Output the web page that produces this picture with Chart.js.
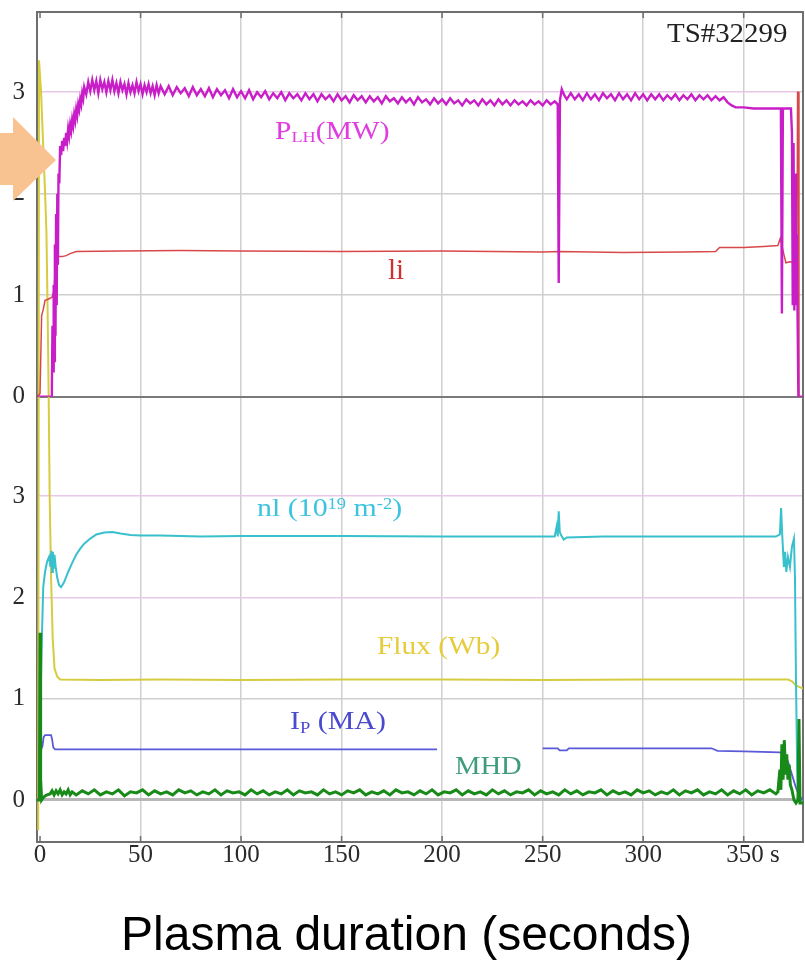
<!DOCTYPE html>
<html><head><meta charset="utf-8">
<script src="https://cdn.jsdelivr.net/npm/chart.js@4.4.1/dist/chart.umd.min.js"></script>
<style>
html,body{margin:0;padding:0;background:#fff;}
#wrap{position:relative;width:805px;height:962px;overflow:hidden;background:#fff;}
#c{position:absolute;left:0;top:0;}
.lbl{position:absolute;font-family:"Liberation Serif","Times New Roman",serif;line-height:1;white-space:nowrap;transform-origin:0 0;}
.sub{font-size:0.62em;position:relative;top:0.22em;}
.sup{font-size:0.62em;position:relative;top:-0.45em;}
#arrow{position:absolute;left:0;top:117px;width:56px;height:84px;background:#f9c291;clip-path:polygon(0 16px,13px 16px,13px 0,56px 43px,13px 84px,13px 68px,0 68px);}
#title{position:absolute;left:121px;top:910px;font-family:"Liberation Sans",Arial,sans-serif;font-size:48px;line-height:1;white-space:nowrap;color:#000;}
</style></head>
<body>
<div id="wrap">
<canvas id="c" width="805" height="962"></canvas>
<div class="lbl" style="left:667px;top:20px;font-size:27px;color:#222;transform:scaleX(1.07)">TS#32299</div>
<div class="lbl" style="left:275px;top:118px;font-size:25px;color:#e03ce0;transform:scaleX(1.18)">P<span class="sub">LH</span>(MW)</div>
<div class="lbl" style="left:388px;top:255px;font-size:29px;color:#d03030">li</div>
<div class="lbl" style="left:257px;top:495px;font-size:26px;color:#3cc4de;transform:scaleX(1.15)">nl (10<span class="sup">19</span> m<span class="sup">-2</span>)</div>
<div class="lbl" style="left:377px;top:633px;font-size:26px;color:#e6cc3c;transform:scaleX(1.13)">Flux (Wb)</div>
<div class="lbl" style="left:290px;top:708px;font-size:26px;color:#4a4ad0;transform:scaleX(1.15)">I<span class="sub">P</span> (MA)</div>
<div class="lbl" style="left:455px;top:753px;font-size:26px;color:#3e9c7c;transform:scaleX(1.1)">MHD</div>
<div id="arrow"></div>
<div id="title">Plasma duration (seconds)</div>
</div>
<script>
// ---- data (time in s, value) ----
const xTicks = [0, 50, 100, 150, 200, 250, 300, 350];
const xTickLabels = ['0', '50', '100', '150', '200', '250', '300', '   350 s'];
const yTicks = [0, 1, 2, 3];

const plhSeries = [[-1.5,0],[5.5,0],[5.9,0.1],[6.2,0.7],[6.5,0.25],[6.8,1.1],[7.1,0.35],[7.4,1.5],[7.7,0.6],[8.0,1.8],[8.3,0.9],[8.6,2.0],[8.9,1.3],[9.2,2.2],[9.6,2.1],[10.0,2.47],[10.5,2.38],[11.0,2.52],[11.5,2.42],[12.0,2.55],[12.5,2.47],[13.0,2.6],[13.5,2.52],[14.0,2.64],[14.5,2.57],[15.0,2.68],[15.5,2.62],[16.0,2.73],[16.5,2.67],[17.0,2.78],[17.5,2.72],[18.0,2.83],[18.5,2.77],[19.0,2.88],[19.5,2.83],[20.0,2.93],[20.5,2.88],[21.0,2.99],[21.5,2.94],
[22,3.05],[23,2.98],[24,3.10],[25,3.01],[26,3.12],[27,3.02],[28,3.11],[29,2.99],[30,3.12],[31,3.03],[32,3.10],[33,3.00],[34,3.11],[35,3.02],[36,3.12],[37,3.01],[38,3.09],[39,2.99],[40,3.10],[41,3.02],[42,3.08],[43,2.98],[44,3.09],[45,3.00],[46,3.07],[47,2.99],[48,3.10],[49,3.01],[50,3.08],[51,2.98],[52,3.07],[53,3.00],[54,3.08],[55,2.99],[56,3.06],[57,2.97],[58,3.07],[59,2.99],[60,3.06],
[62,2.98],[64,3.06],[66,2.97],[68,3.05],[70,2.99],[72,3.04],[74,2.96],[76,3.05],[78,2.97],[80,3.03],[82,2.96],[84,3.04],[86,2.95],[88,3.03],[90,2.97],[92,3.02],[94,2.94],[96,3.03],[98,2.95],[100,3.01],[102,2.94],[104,3.02],[106,2.93],[108,3.00],[110,2.95],[112,3.01],[114,2.93],[116,2.99],[118,2.94],[120,3.00],[122,2.92],[124,2.99],[126,2.94],[128,2.98],[130,2.92],[132,2.99],[134,2.93],[136,2.98],[138,2.91],[140,2.98],[142,2.93],[144,2.97],[146,2.91],[148,2.98],[150,2.92],[152,2.96],[154,2.90],[156,2.97],[158,2.92],[160,2.96],[162,2.90],[164,2.96],[166,2.91],[168,2.95],[170,2.89],[172,2.96],[174,2.91],[176,2.94],[178,2.89],[180,2.95],[182,2.90],[184,2.94],[186,2.88],[188,2.95],[190,2.90],[192,2.93],[194,2.88],[196,2.94],[198,2.89],[200,2.93],[202,2.88],[204,2.94],[206,2.89],[208,2.92],[210,2.87],[212,2.93],[214,2.89],[216,2.92],[218,2.87],[220,2.93],[222,2.88],[224,2.92],[226,2.87],[228,2.93],[230,2.88],[232,2.92],[234,2.87],[236,2.92],[238,2.88],[240,2.91],[242,2.87],[244,2.92],[246,2.88],[248,2.91],[250,2.87],[252,2.92],[254,2.88],[256,2.91],
[257.5,2.88],[258,1.12],[258.6,2.92],[259.5,3.03],[260.5,2.98],
[262,2.93],[264,2.99],[266,2.93],[268,2.98],[270,2.92],[272,2.99],[274,2.93],[276,2.98],[278,2.92],[280,2.99],[282,2.94],[284,2.98],[286,2.92],[288,2.99],[290,2.93],[292,2.98],[294,2.92],[296,2.99],[298,2.93],[300,2.98],[302,2.92],[304,2.98],[306,2.93],[308,2.98],[310,2.92],[312,2.97],[314,2.93],[316,2.98],[318,2.92],[320,2.97],[322,2.93],[324,2.98],[326,2.92],[328,2.97],[330,2.93],[332,2.97],[334,2.92],[336,2.96],[338,2.92],[340,2.95],
[342,2.90],[344,2.87],[346,2.85],[350,2.85],[355,2.84],[360,2.84],[365,2.84],[368.5,2.84],[369,0.82],[369.5,2.84],[373.5,2.84],[374,2.6],[374.4,0.9],[374.8,2.5],[375.2,0.85],[375.6,2.2],[376,0.9],[376.4,1.6],[376.8,0.8],[377.2,0],[379.5,0]];

const liSeries = [[-1.5,0],[0,0.03],[0.8,0.8],[1.5,0.85],[2.5,0.95],[4,0.96],[6,0.98],[7,1.05],[7.6,1.3],[8.2,1.45],[9,1.38],[11,1.38],[13,1.39],[15,1.41],[18,1.43],[40,1.435],[70,1.44],[100,1.435],[150,1.43],[200,1.435],[250,1.425],[258,1.43],[290,1.42],[320,1.425],[336,1.43],[338,1.47],[350,1.47],[360,1.48],[367,1.49],[368.2,1.56],[370,1.4],[371,1.32],[373,1.33],[376.5,1.32],[376.8,3.0],[377.3,3.0],[377.5,0],[379.5,0]];

const nlSeries = [[-1.5,0],[-0.2,0],[0.5,1.2],[1,1.65],[1.6,2.1],[2.5,2.25],[3.5,2.35],[4.5,2.4],[5.2,2.3],[5.6,2.46],[6,2.25],[6.4,2.45],[6.8,2.28],[7.2,2.42],[7.8,2.3],[8.5,2.2],[9.5,2.12],[10.5,2.1],[12,2.15],[14,2.25],[16,2.34],[18,2.42],[20,2.48],[22,2.53],[25,2.58],[28,2.62],[32,2.64],[36,2.645],[40,2.63],[45,2.615],[50,2.61],[60,2.61],[80,2.6],[100,2.605],[150,2.605],[200,2.6],[250,2.6],[256,2.6],[257,2.7],[257.5,2.6],[258,2.85],[258.5,2.65],[259,2.62],[260.5,2.57],[262,2.59],[280,2.6],[300,2.6],[340,2.6],[366,2.6],[368,2.62],[368.6,2.88],[369.2,2.6],[370,2.3],[370.6,2.45],[371.2,2.25],[372,2.4],[373,2.3],[374,2.5],[375,2.58],[375.5,2.2],[376,1.2],[376.6,0.3],[377.2,0],[379.5,0]];

const fluxSeries = [[-0.9,-0.3],[-0.5,7.3],[0.5,7.0],[1.5,6.5],[2.5,6.0],[3.2,5.6],[3.8,4.8],[4.3,4.0],[4.8,3.0],[5.5,2.2],[6.3,1.6],[7.2,1.3],[8.5,1.22],[10,1.19],[30,1.185],[60,1.19],[100,1.185],[150,1.19],[200,1.19],[250,1.185],[300,1.19],[340,1.19],[372,1.19],[374,1.17],[376,1.13],[379.5,1.1]];

const ipSeries = [[-1.5,0],[-0.2,0],[0.6,0.5],[1.2,0.53],[1.8,0.62],[2.5,0.64],[5.5,0.64],[6,0.6],[6.6,0.52],[7.5,0.5],[100,0.5],[197.5,0.5],[220,null],[250,0.51],[257.5,0.51],[258.5,0.49],[262,0.49],[263,0.51],[334,0.51],[337,0.485],[350,0.48],[368,0.47],[370,0.44],[372,0.38],[374,0.25],[376,0.12],[378,0.03],[379.5,0]];

const mhdSeries = [[-1.5,0],[-0.3,0],[0,1.65],[0.3,0.2],[0.8,0],[1.5,0.02],[2.5,0.04],[3.5,0.05],[5,0.06],[6,0.09],[7,0.05],[8,0.09],[9,0.06],[10,0.1],[11,0.05],[12,0.08],[13,0.06],[14,0.1],[15,0.05],[16,0.08],
[18,0.05],[21,0.09],[24,0.06],[27,0.10],[30,0.05],[33,0.08],[36,0.06],[39,0.10],[42,0.04],[45,0.08],
[48,0.07],[51,0.10],[54,0.05],[57,0.09],[60,0.06],[63,0.08],[66,0.05],[69,0.10],[72,0.07],[75,0.09],
[78,0.05],[81,0.08],[84,0.06],[87,0.10],[90,0.05],[93,0.09],[96,0.07],[99,0.08],[102,0.05],[105,0.10],
[108,0.06],[111,0.09],[114,0.05],[117,0.08],[120,0.06],[123,0.10],[126,0.05],[129,0.09],[132,0.07],[135,0.08],
[138,0.05],[141,0.10],[144,0.06],[147,0.08],[150,0.05],[153,0.09],[156,0.07],[159,0.10],[162,0.05],[165,0.08],
[168,0.06],[171,0.09],[174,0.05],[177,0.10],[180,0.07],[183,0.08],[186,0.05],[189,0.09],[192,0.06],[195,0.10],
[198,0.05],[201,0.08],[204,0.07],[207,0.10],[210,0.05],[213,0.09],[216,0.06],[219,0.08],[222,0.05],[225,0.10],
[228,0.06],[231,0.09],[234,0.05],[237,0.08],[240,0.07],[243,0.10],[246,0.05],[249,0.09],[252,0.06],[255,0.08],
[258,0.05],[261,0.10],[264,0.06],[267,0.09],[270,0.05],[273,0.08],[276,0.07],[279,0.10],[282,0.05],[285,0.09],
[288,0.06],[291,0.08],[294,0.05],[297,0.10],[300,0.07],[303,0.09],[306,0.05],[309,0.08],[312,0.06],[315,0.10],
[318,0.05],[321,0.09],[324,0.07],[327,0.10],[330,0.05],[333,0.08],[336,0.06],[339,0.10],[342,0.05],[345,0.09],
[348,0.06],[351,0.10],[354,0.05],[357,0.09],[360,0.07],[363,0.10],[366,0.06],
[367,0.08],[368,0.3],[368.5,0.1],[369,0.55],[369.6,0.2],[370.2,0.59],[370.8,0.25],[371.4,0.45],[372,0.2],[372.6,0.35],[373.2,0.15],[374,0.1],[375,0],[376,-0.03],[377,0],[377.5,0.8],[378,-0.03],[379.5,-0.03]];

// ---- chart ----
const toPts = arr => arr.map(p => ({x: p[0], y: p[1]}));
const tickFont = {family: '"Liberation Serif","Times New Roman",serif', size: 25};

const framePlugin = {
  id: 'frame',
  beforeDatasetsDraw(chart) {
    const {ctx, chartArea: a} = chart;
    const xs = chart.scales.x;
    ctx.save();
    ctx.strokeStyle = '#6e6e6e';
    ctx.lineWidth = 2;
    ctx.strokeRect(a.left, a.top, a.right - a.left, a.bottom - a.top);
    ctx.lineWidth = 1.5;
    ctx.beginPath();
    xs.ticks.forEach(t => {
      const px = xs.getPixelForValue(t.value);
      ctx.moveTo(px, a.bottom); ctx.lineTo(px, a.bottom - 6);
      ctx.moveTo(px, a.top); ctx.lineTo(px, a.top + 6);
    });
    ctx.stroke();
    ctx.restore();
  }
};

const line = (label, series, axis, color, width, extra) => Object.assign({
  label, data: toPts(series), yAxisID: axis, borderColor: color, backgroundColor: color,
  borderWidth: width, pointRadius: 0, tension: 0, fill: false, spanGaps: false
}, extra || {});

new Chart(document.getElementById('c'), {
  type: 'line',
  data: {
    datasets: [
      line('P_LH (MW)', plhSeries, 'yTop', '#c81ec8', 2.4),
      line('li', liSeries, 'yTop', '#d84848', 1.5),
      line('MHD', mhdSeries, 'yBot', '#188a18', 3),
      line('Ip (MA)', ipSeries, 'yBot', '#5a5ad8', 1.8),
      line('nl (10^19 m^-2)', nlSeries, 'yBot', '#38c0cc', 2),
      line('Flux (Wb)', fluxSeries, 'yBot', '#d6cc40', 2, {clip: {left: 2, right: 0, top: false, bottom: 0}})
    ]
  },
  options: {
    responsive: false,
    animation: false,
    devicePixelRatio: 1,
    layout: {padding: {left: 0, top: 12, right: 2, bottom: 0}},
    plugins: {legend: {display: false}, tooltip: {enabled: false}},
    scales: {
      x: {
        type: 'linear', min: -1.5, max: 379.5,
        afterBuildTicks: s => { s.ticks = xTicks.map(v => ({value: v})); },
        afterFit: s => { s.height = 120; s.paddingLeft = 0; s.paddingRight = 0; },
        grid: {color: c => (c.tick && c.tick.value === 0) ? 'rgba(0,0,0,0)' : '#cfcfcf', lineWidth: 1.5, drawTicks: false},
        border: {display: false},
        ticks: {autoSkip: false, maxRotation: 0, padding: 0, color: '#2b2b2b',
          font: Object.assign({lineHeight: 1.1}, tickFont),
          callback: (v, i) => xTickLabels[i]}
      },
      yBot: {
        type: 'linear', position: 'left', stack: 'v', stackWeight: 445.3,
        min: -0.415, max: 3.98,
        afterBuildTicks: s => { s.ticks = yTicks.map(v => ({value: v})); },
        afterFit: s => { s.width = 37; s.paddingTop = 0; s.paddingBottom = 0; },
        grid: {drawTicks: false,
          color: c => { const v = c.tick && c.tick.value; return v === 0 ? '#b8b8b8' : (v === 1 ? '#cfcfcf' : '#e8c8e8'); },
          lineWidth: c => (c.tick && c.tick.value === 0) ? 3 : 1.5},
        border: {display: false},
        ticks: {padding: 12, color: '#2b2b2b', font: tickFont, callback: v => String(v)}
      },
      yTop: {
        type: 'linear', position: 'left', stack: 'v', stackWeight: 384.7,
        min: 0, max: 3.79,
        afterBuildTicks: s => { s.ticks = yTicks.map(v => ({value: v})); },
        afterFit: s => { s.width = 37; s.paddingTop = 0; s.paddingBottom = 0; },
        grid: {drawTicks: false,
          color: c => { const v = c.tick && c.tick.value; return v === 0 ? '#7a7a7a' : (v === 3 ? '#e6c6e6' : '#cfcfcf'); },
          lineWidth: c => (c.tick && c.tick.value === 0) ? 2 : 1.5},
        border: {display: false},
        ticks: {padding: 12, color: '#2b2b2b', font: tickFont, callback: v => String(v)}
      }
    }
  },
  plugins: [framePlugin]
});
</script>
</body></html>
